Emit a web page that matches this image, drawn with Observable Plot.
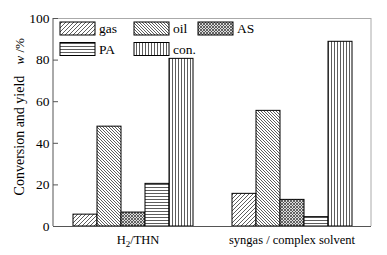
<!DOCTYPE html>
<html>
<head>
<meta charset="utf-8">
<script src="https://cdn.jsdelivr.net/npm/d3@7"></script>
<script src="https://cdn.jsdelivr.net/npm/@observablehq/plot@0.6"></script>
<style>
  html, body { margin: 0; padding: 0; background: #fff; }
  #chart svg { display: block; }
  #chart svg text { font-family: "Liberation Serif", "Times New Roman", serif !important; }
</style>
</head>
<body>
<div id="chart"></div>
<script>
const groups = ["H2/THN", "syngas / complex solvent"];
const series = ["gas", "oil", "AS", "PA", "con."];
const h2Values = [5.7, 48.0, 6.7, 20.5, 80.6];
const syngasValues = [15.7, 55.6, 12.8, 4.5, 88.8];
const yTicks = [0, 20, 40, 60, 80, 100];
const patternIds = ["p-gas", "p-oil", "p-as", "p-pa", "p-con"];
const legendOrder = [["gas", "oil", "AS"], ["PA", "con."]];

const rows = [];
series.forEach((s, i) => {
  rows.push({group: groups[0], series: s, value: h2Values[i]});
  rows.push({group: groups[1], series: s, value: syngasValues[i]});
});

const W = 387, H = 255, mL = 53, mR = 16, mT = 18, mB = 29;

const plot = Plot.plot({
  width: W, height: H,
  marginLeft: mL, marginRight: mR, marginTop: mT, marginBottom: mB,
  style: {fontFamily: "Liberation Serif", fontSize: "13px", color: "#000", background: "#fff"},
  fx: {domain: groups, padding: 0, label: null},
  x: {domain: series, paddingInner: 0, paddingOuter: 0.81, axis: null},
  y: {domain: [0, 100], label: null},
  color: {type: "ordinal", domain: series, range: patternIds.map(id => `url(#${id})`)},
  marks: [
    Plot.barY(rows, {fx: "group", x: "series", y: "value", fill: "series", stroke: "#000", strokeWidth: 1}),
    Plot.ruleY([100], {stroke: "#aaa", strokeWidth: 1}),
    Plot.ruleY([0], {stroke: "#555", strokeWidth: 1}),
    Plot.axisY({ticks: yTicks, tickSize: -5, tickPadding: 9, stroke: "#555", fontSize: 13.5}),
    Plot.axisFx({anchor: "bottom", tickSize: 0, tickPadding: 9, label: null, fontSize: 12.5})
  ]
});

const svg = d3.select(plot);
const defs = svg.insert("defs", ":first-child");
function pat(id, size, draw, bg = "#fff") {
  const p = defs.append("pattern").attr("id", id).attr("patternUnits", "userSpaceOnUse")
    .attr("width", size).attr("height", size);
  p.append("rect").attr("width", size).attr("height", size).attr("fill", bg);
  draw(p);
}
pat("p-gas", 4, p => p.append("path").attr("d", "M-1,1 L1,-1 M0,4 L4,0 M3,5 L5,3").attr("stroke", "#333").attr("stroke-width", 0.8));
pat("p-oil", 3, p => p.append("path").attr("d", "M-1,2 L1,4 M0,0 L3,3 M2,-1 L4,1").attr("stroke", "#333").attr("stroke-width", 0.8));
pat("p-as", 3, p => p.append("path").attr("d", "M-1,2 L1,4 M0,0 L3,3 M2,-1 L4,1 M-1,1 L1,-1 M0,3 L3,0 M2,4 L4,2").attr("stroke", "#444").attr("stroke-width", 0.8), "#ddd");
pat("p-pa", 3, p => p.append("path").attr("d", "M0,1.5 H3").attr("stroke", "#333").attr("stroke-width", 0.8));
pat("p-con", 3, p => p.append("path").attr("d", "M1.5,0 V3").attr("stroke", "#333").attr("stroke-width", 0.8));

// frame sides
svg.append("line").attr("x1", mL).attr("x2", mL).attr("y1", mT).attr("y2", H - mB).attr("stroke", "#555");
svg.append("line").attr("x1", W - mR).attr("x2", W - mR).attr("y1", mT).attr("y2", H - mB).attr("stroke", "#aaa");

// subscript in H2/THN
svg.selectAll("text").each(function() {
  const t = d3.select(this);
  if (t.text() === "H2/THN") {
    t.text("");
    t.attr("dx", 5);
    t.append("tspan").text("H");
    t.append("tspan").attr("font-size", "9px").attr("dy", "3").text("2");
    t.append("tspan").attr("dy", "-3").text("/THN");
  }
});

// y axis title (two parts)
const yScale = plot.scale("y");
svg.append("text")
  .attr("transform", `translate(21,${yScale.apply(43.5)}) rotate(-90)`)
  .attr("text-anchor", "middle").attr("dominant-baseline", "middle")
  .attr("font-size", "14px").attr("fill", "#000")
  .text("Conversion and yield");
const yt2 = svg.append("text")
  .attr("transform", `translate(21,${yScale.apply(84)}) rotate(-90)`)
  .attr("text-anchor", "middle").attr("dominant-baseline", "middle")
  .attr("font-size", "13px").attr("fill", "#000");
yt2.append("tspan").attr("font-style", "italic").text("w");
yt2.append("tspan").text(" /%");

// legend
const lg = svg.append("g").attr("font-size", "13.5px").attr("text-anchor", "start");
const colX = [60, 134, 198], rowY = [22, 42.5];
legendOrder.forEach((row, r) => row.forEach((s, c) => {
  const id = patternIds[series.indexOf(s)];
  lg.append("rect").attr("x", colX[c]).attr("y", rowY[r]).attr("width", 35).attr("height", 13)
    .attr("fill", `url(#${id})`).attr("stroke", "#000");
  lg.append("text").attr("x", colX[c] + 39).attr("y", rowY[r] + 11).attr("text-anchor", "start").text(s);
}));

document.getElementById("chart").appendChild(plot);
</script>
</body>
</html>
